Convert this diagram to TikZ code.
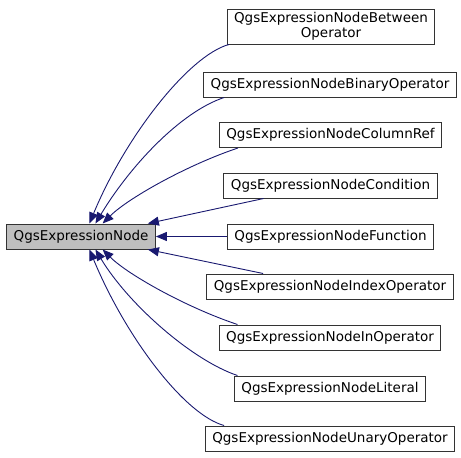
\documentclass[tikz,border=0pt]{standalone}
\usepackage{fontspec}
\setmainfont{DejaVu Sans}
\usetikzlibrary{arrows.meta,positioning,calc}
\definecolor{edgeblue}{HTML}{191970}
\definecolor{basegray}{HTML}{BFBFBF}

\begin{document}
\begin{tikzpicture}[x=1pt,y=-1pt]
  \tikzstyle{cls}=[rectangle, draw=black!80, line width=1pt, inner xsep=7pt, inner ysep=0pt, minimum height=25pt, font=\fontsize{13.5}{15}\selectfont]
  \tikzstyle{inherit}=[draw=edgeblue, line width=0.9pt, -{Triangle[length=11pt,width=9pt,fill=edgeblue]}]

  \useasboundingbox (0,0) rectangle (461,458);

  \node[cls, fill=basegray] (base) at (81,236.5) {QgsExpressionNode};

  \node[cls, align=center, minimum height=35pt] (between) at (331,26.5) {QgsExpressionNodeBetween\\Operator};
  \node[cls] (binary) at (330,84.5) {QgsExpressionNodeBinaryOperator};
  \node[cls] (columnref) at (330.5,135) {QgsExpressionNodeColumnRef};
  \node[cls] (condition) at (330.5,185.5) {QgsExpressionNodeCondition};
  \node[cls] (function) at (330.5,236.5) {QgsExpressionNodeFunction};
  \node[cls] (indexop) at (330,286.5) {QgsExpressionNodeIndexOperator};
  \node[cls] (inop) at (330,337.5) {QgsExpressionNodeInOperator};
  \node[cls] (literal) at (330,388.5) {QgsExpressionNodeLiteral};
  \node[cls] (unary) at (330,438.5) {QgsExpressionNodeUnaryOperator};

  % upper children
  \draw[inherit] (between.190) .. controls +(-40,11) and +(36,-87) .. (base.57);
  \draw[inherit] (binary.187) .. controls +(-45,15) and +(33,-55) .. (base.42);
  \draw[inherit] (columnref.188) .. controls +(-51,17) and +(25,-25) .. (base.31);
  \draw[inherit] (condition.191) -- (base.11);
  \draw[inherit] (function) -- (base);
  % lower children
  \draw[inherit] (indexop.169) -- (base.-11);
  \draw[inherit] (inop.172) .. controls +(-51,-17) and +(25,25) .. (base.-31);
  \draw[inherit] (literal.172) .. controls +(-45,-15) and +(33,55) .. (base.-42);
  \draw[inherit] (unary.173) .. controls +(-40,-11) and +(36,87) .. (base.-57);
\end{tikzpicture}
\end{document}
